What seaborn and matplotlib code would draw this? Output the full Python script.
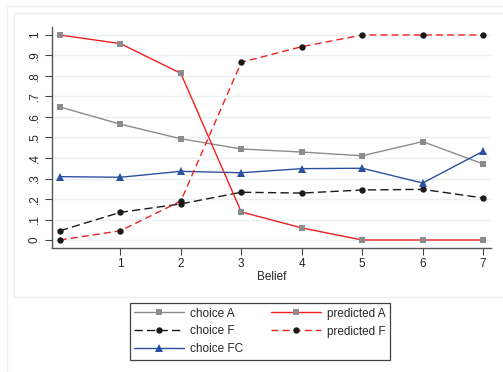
import numpy as np
import pandas as pd
import seaborn as sns
import matplotlib.pyplot as plt
from matplotlib.patches import Rectangle

belief = [0, 1, 2, 3, 4, 5, 6, 7]
choice_a = [0.649, 0.565, 0.494, 0.444, 0.429, 0.411, 0.480, 0.371]
predicted_a = [1.0, 0.958, 0.813, 0.137, 0.059, 0.0, 0.0, 0.0]
choice_f = [0.045, 0.135, 0.176, 0.233, 0.229, 0.244, 0.247, 0.205]
predicted_f = [0.0, 0.045, 0.190, 0.867, 0.943, 1.0, 1.0, 1.0]
choice_fc = [0.309, 0.306, 0.335, 0.328, 0.348, 0.350, 0.278, 0.433]

yticks = [0, 0.1, 0.2, 0.3, 0.4, 0.5, 0.6, 0.7, 0.8, 0.9, 1.0]
ytick_labels = ["0", ".1", ".2", ".3", ".4", ".5", ".6", ".7", ".8", ".9", "1"]
xticks = [1, 2, 3, 4, 5, 6, 7]

sns.set_theme(style="white")
plt.rcParams['font.family'] = ['Liberation Sans', 'DejaVu Sans']

fig = plt.figure(figsize=(5.03, 3.72), dpi=100)
ax = fig.add_axes([52 / 503, 1 - 248 / 372, (491 - 52) / 503, (248 - 27) / 372])

# outer frames (Stata-like)
edge = "#e9f1f3"
fig.patches.append(Rectangle((7 / 503, -0.1), 1.2, 1.1 - 6 / 372, transform=fig.transFigure,
                             fill=False, edgecolor=edge, linewidth=1, zorder=0))
fig.patches.append(Rectangle((14 / 503, 1 - 297 / 372), 1.2, (297 - 13) / 372, transform=fig.transFigure,
                             fill=False, edgecolor=edge, linewidth=1, zorder=0))

for yv in yticks:
    ax.axhline(yv, color="#e8f0f2", linewidth=1, zorder=0)

gray = "#8c8c8c"
red = "#f02020"
blue = "#2b50a0"
black = "#1a1a1a"
ms = 4.6

sns.lineplot(x=belief, y=choice_a, ax=ax, color=gray, linewidth=1, marker="s",
             markersize=ms, markerfacecolor=gray, markeredgewidth=0, label="choice A")
sns.lineplot(x=belief, y=choice_f, ax=ax, color=black, linewidth=1, marker="o",
             markersize=ms, markerfacecolor=black, markeredgewidth=0,
             linestyle=(0, (6, 3)), label="choice F")
sns.lineplot(x=belief, y=choice_fc, ax=ax, color=blue, linewidth=1, marker="^",
             markersize=5.2, markerfacecolor=blue, markeredgewidth=0, label="choice FC")
sns.lineplot(x=belief, y=predicted_a, ax=ax, color=red, linewidth=1, marker="s",
             markersize=ms, markerfacecolor=gray, markeredgewidth=0, label="predicted A")
sns.lineplot(x=belief, y=predicted_f, ax=ax, color=red, linewidth=1, marker="o",
             markersize=ms, markerfacecolor=black, markeredgewidth=0,
             linestyle=(0, (5, 3)), label="predicted F")

ax.set_xlim(-0.13, 7.13)
ax.set_ylim(-0.039, 1.039)
ax.set_yticks(yticks)
ax.set_yticklabels(ytick_labels, rotation=90, va="center")
ax.set_xticks(xticks)
ax.set_xticklabels([str(t) for t in xticks])
ax.set_xlabel("Belief", fontsize=8.5, labelpad=1)
ax.set_ylabel("")
ax.tick_params(axis="both", labelsize=8.5, length=5, width=0.8, color="#444444",
               direction="out", pad=3, left=True, bottom=True)
ax.tick_params(axis="x", pad=2)
for side in ["top", "right"]:
    ax.spines[side].set_visible(False)
for side in ["left", "bottom"]:
    ax.spines[side].set_color("#555555")
    ax.spines[side].set_linewidth(1)
ax.set_facecolor("white")

handles, labels = ax.get_legend_handles_labels()
leg = fig.legend(handles, labels, ncol=2, loc="center",
                 bbox_to_anchor=(260 / 503, 1 - 331.5 / 372),
                 fontsize=8.5, frameon=True, fancybox=False, handlelength=4.2,
                 columnspacing=2.4, handletextpad=0.5, labelspacing=0.5,
                 borderpad=0.35)
leg.get_frame().set_edgecolor("#111111")
leg.get_frame().set_linewidth(0.9)
ax.get_legend().remove()

fig.savefig("out.png", dpi=100)
